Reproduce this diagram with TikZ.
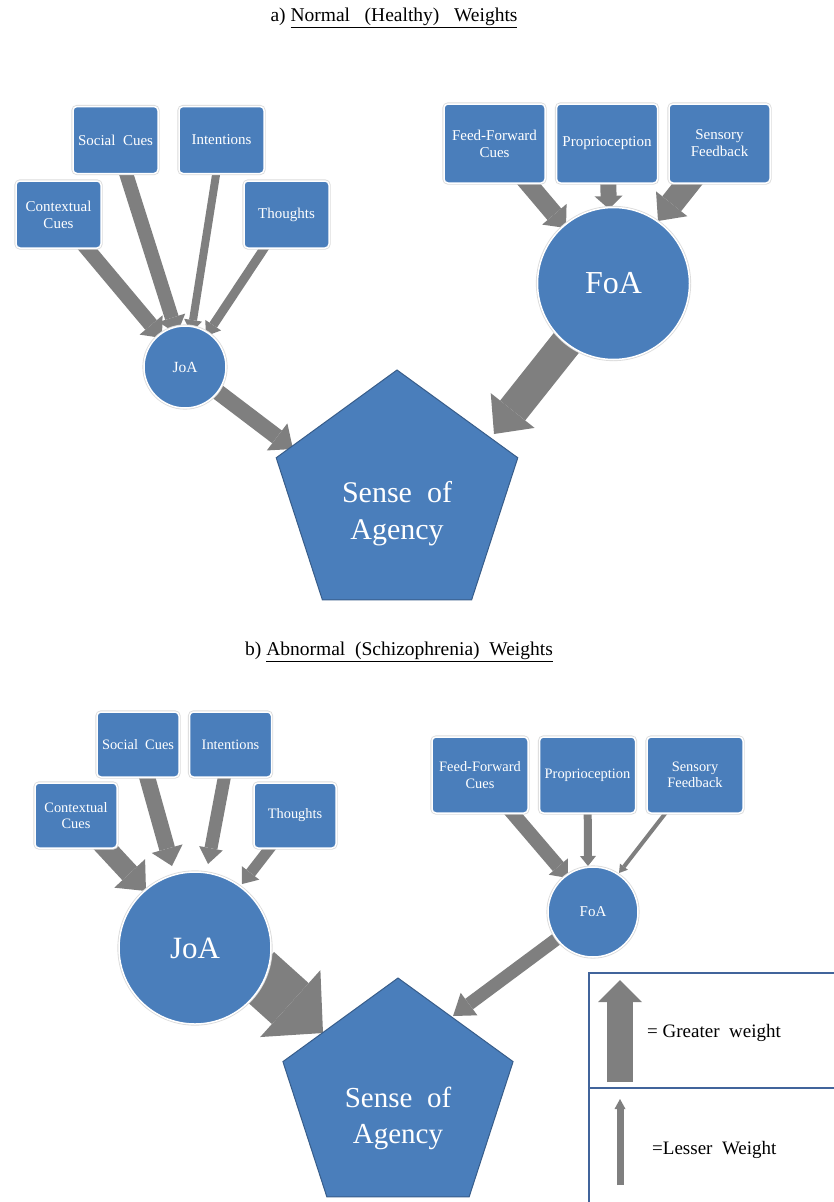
\documentclass[tikz,border=0pt]{standalone}
\usepackage{fontspec}
\setmainfont{Liberation Serif}
\usetikzlibrary{arrows.meta,shapes.geometric,backgrounds}
\definecolor{boxblue}{HTML}{4A7EBB}
\definecolor{edgeblue}{HTML}{385D8A}
\definecolor{arrgray}{HTML}{7F7F7F}
\definecolor{legblue}{HTML}{41649B}
\begin{document}
\begin{tikzpicture}[x=1pt,y=-1pt,
  box/.style={rectangle, rounded corners=4pt, fill=boxblue, draw=white, line width=1.5pt,
    preaction={draw=black!14, line width=3.2pt},
    text=white, align=center, inner sep=0pt, font=\fontsize{15}{17}\selectfont},
  lboxa/.style={box, minimum width=85pt, minimum height=67pt},
  rboxa/.style={box, minimum width=101pt, minimum height=79pt},
  lboxb/.style={box, minimum width=82pt, minimum height=65pt, font=\fontsize{14.4}{16.5}\selectfont},
  rboxb/.style={box, minimum width=96pt, minimum height=76pt, font=\fontsize{14.4}{16.5}\selectfont},
  circ/.style={circle, fill=boxblue, draw=white, line width=1.5pt,
    preaction={draw=black!14, line width=3.2pt},
    text=white, inner sep=0pt},
  pent/.style={regular polygon, regular polygon sides=5, fill=boxblue, draw=edgeblue,
    line width=1pt, inner sep=0pt, outer sep=0pt},
  pentxt/.style={text=white, align=center, font=\fontsize{30}{37}\selectfont},
  ttl/.style={font=\fontsize{19.5}{23}\selectfont, text=black},
  lgtext/.style={font=\fontsize{19}{22}\selectfont, text=black, anchor=west, inner sep=0pt},
  wa/.style n args={3}{draw=arrgray, line width=#1,
    -{Triangle[width=#2,length=#3,line width=0pt]}},
  from/.style={shorten <=-12pt},
  legline/.style={draw=legblue, line width=2pt}
]
\useasboundingbox (0,0) rectangle (834,1202);
\clip (0,0) rectangle (834,1202);

% ---------- titles ----------
\node[ttl] (titleA) at (394,18) {a) \underline{Normal\ \ \ (Healthy)\ \ \ Weights}};
\node[ttl] (titleB) at (399,652) {b) \underline{Abnormal\ \ (Schizophrenia)\ \ Weights}};

% ---------- part a ----------
\node[lboxa] (CCa) at (58.5,214.5) {Contextual\\Cues};
\node[lboxa] (SCa) at (115.5,140) {Social\ \ Cues};
\node[lboxa] (INa) at (221.5,140) {Intentions};
\node[lboxa] (THa) at (286.5,214.5) {Thoughts};
\node[circ, minimum size=82pt, font=\fontsize{15.5}{18}\selectfont] (JoAa) at (185,367) {JoA};
\node[rboxa] (FFa) at (494.5,143.5) {Feed-Forward\\Cues};
\node[rboxa] (PRa) at (607,143.5) {Proprioception};
\node[rboxa] (SFa) at (719.5,143.5) {Sensory\\Feedback};
\node[circ, minimum size=152pt, font=\fontsize{32}{36}\selectfont] (FoAa) at (613.5,283.5) {FoA};
\node[pent, minimum size=254pt] (SoAa) at (397,497) {};
\node[pentxt] (SoAaT) at ([yshift=-17pt]SoAa.center) {Sense\ \ of\\Agency};

\coordinate (tCCa) at (162,338);
\coordinate (tSCa) at (177,334);
\coordinate (tINa) at (191,333);
\coordinate (tTHa) at (206,336);
\coordinate (tJSa) at (293,449);
\coordinate (tFSa) at (494,434);
\coordinate (tFFa) at (566,228);
\coordinate (tPRa) at (609,209);
\coordinate (tSFa) at (658,221);

% ---------- part b ----------
\node[lboxb] (CCb) at (76,815.5) {Contextual\\Cues};
\node[lboxb] (SCb) at (138,744.5) {Social\ \ Cues};
\node[lboxb] (INb) at (230.5,744.5) {Intentions};
\node[lboxb] (THb) at (295,815.5) {Thoughts};
\node[circ, minimum size=152pt, font=\fontsize{31}{36}\selectfont] (JoAb) at (195,948) {JoA};
\node[rboxb] (FFb) at (480,775) {Feed-Forward\\Cues};
\node[rboxb] (PRb) at (587.5,775) {Proprioception};
\node[rboxb] (SFb) at (695,775) {Sensory\\Feedback};
\node[circ, minimum size=90pt, font=\fontsize{15}{18}\selectfont] (FoAb) at (593,912) {FoA};
\node[pent, minimum size=242pt] (SoAb) at (398,1099) {};
\node[pentxt, font=\fontsize{29}{36}\selectfont] (SoAbT) at ([yshift=-19pt]SoAb.center) {Sense\ \ of\\Agency};

\coordinate (tCCb) at (146,891);
\coordinate (tSCb) at (172,866);
\coordinate (tINb) at (208,864);
\coordinate (tTHb) at (242,884);
\coordinate (tJSb) at (323,1033);
\coordinate (tFSb) at (453,1016);
\coordinate (tFFb) at (568,878);
\coordinate (tPRb) at (588,866);
\coordinate (tSFb) at (619,873);

% ---------- legend ----------
\draw[legline] (589,1210) -- (589,973) -- (840,973);
\draw[legline] (589,1088) -- (840,1088);
\coordinate (lgBigTail) at (620,1082);
\coordinate (lgBigTip) at (620,980);
\coordinate (lgSmallTail) at (620,1185);
\coordinate (lgSmallTip) at (620,1099);
\draw[wa={26pt}{44pt}{22pt}] (lgBigTail) -- (lgBigTip);
\draw[wa={7pt}{11pt}{10pt}] (lgSmallTail) -- (lgSmallTip);
\node[lgtext] (lgT1) at (647,1033) {= Greater\ \ weight};
\node[lgtext] (lgT2) at (652,1150) {=Lesser\ \ Weight};

% ---------- connectors (under the shapes) ----------
\begin{pgfonlayer}{background}
  \draw[wa={15pt}{30pt}{17pt}, from] (CCa) -- (tCCa);
  \draw[wa={14pt}{28pt}{17pt}, from] (SCa) -- (tSCa);
  \draw[wa={8pt}{18pt}{13pt}, from] (INa) -- (tINa);
  \draw[wa={9pt}{19pt}{13pt}, from] (THa) -- (tTHa);
  \draw[wa={16pt}{34pt}{20pt}, from] (JoAa) -- (tJSa);
  \draw[wa={32pt}{56pt}{30pt}, from] (FoAa) -- (tFSa);
  \draw[wa={18pt}{32pt}{18pt}, from] (FFa) -- (tFFa);
  \draw[wa={16pt}{28pt}{13pt}, from] (PRa) -- (tPRa);
  \draw[wa={24pt}{40pt}{22pt}, from] (SFa) -- (tSFa);

  \draw[wa={20pt}{42pt}{24pt}, from] (CCb) -- (tCCb);
  \draw[wa={16pt}{32pt}{18pt}, from] (SCb) -- (tSCb);
  \draw[wa={13pt}{24pt}{16pt}, from] (INb) -- (tINb);
  \draw[wa={11pt}{22pt}{14pt}, from] (THb) -- (tTHb);
  \draw[wa={55pt}{90pt}{44pt}, from] (JoAb.-25) -- (tJSb);
  \draw[wa={13pt}{28pt}{20pt}, from] (FoAb) -- (tFSb);
  \draw[wa={14pt}{25pt}{15pt}, from] (FFb) -- (tFFb);
  \draw[wa={8pt}{16pt}{10pt}, from] (PRb) -- (tPRb);
  \draw[wa={4pt}{10pt}{8pt}, from] (SFb) -- (tSFb);
\end{pgfonlayer}
\end{tikzpicture}
\end{document}
